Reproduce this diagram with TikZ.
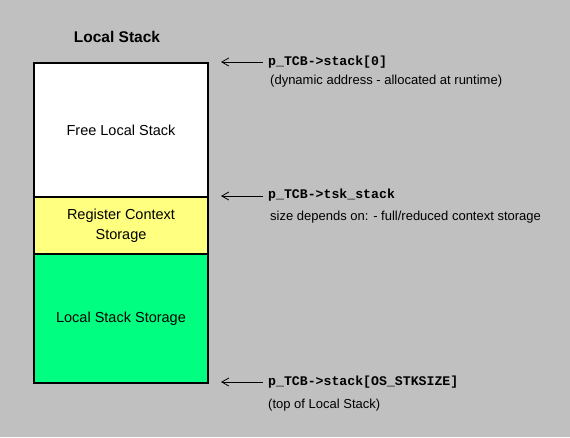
\documentclass[tikz,border=0pt]{standalone}
\usepackage{fontspec}
\setmainfont{Liberation Sans}
\newfontfamily\codefont{Liberation Mono}
\usetikzlibrary{arrows.meta}
\definecolor{bgcol}{HTML}{C0C0C0}
\definecolor{regcol}{HTML}{FFFF80}
\definecolor{loccol}{HTML}{00FF80}
\tikzset{
  part/.style={draw=black, line width=2pt, inner sep=0pt, anchor=north west,
    minimum width=174pt, align=center, font=\fontsize{14.5}{20}\selectfont},
  code/.style={anchor=west, inner sep=0pt, font=\codefont\bfseries\fontsize{13.2}{15}\selectfont},
  note/.style={anchor=west, inner sep=0pt, font=\fontsize{13}{15}\selectfont},
  ptr/.style={draw=black, line width=0.8pt, {Straight Barb[length=7pt,width=8pt]}-},
}
\begin{document}
\begin{tikzpicture}[x=1pt,y=-1pt]
\fill[bgcol] (0,0) rectangle (570,437);
\useasboundingbox (0,0) rectangle (570,437);
\node[font=\bfseries\fontsize{15.5}{18}\selectfont] (title) at (117,37) {Local Stack};
\node[part, fill=white, minimum height=134pt, text depth=-6pt] (free) at (33,62) {Free Local Stack};
\node[part, fill=regcol, minimum height=57pt] (reg) at (33,196) {Register Context\\Storage};
\node[part, fill=loccol, minimum height=129pt] (loc) at (33,253) {Local Stack Storage};
% annotations
\node[code] (c0) at (268,62) {p\_TCB->stack[0]};
\node[note] (n0) at (270,81) {(dynamic address - allocated at runtime)};
\node[code] (c1) at (268,195) {p\_TCB->tsk\_stack};
\node[note] (n1) at (270,217) {size depends on: - full/reduced context storage};
\node[code] (c2) at (268,382) {p\_TCB->stack[OS\_STKSIZE]};
\node[note] (n2) at (268,405) {(top of Local Stack)};
\coordinate (t0) at (221,62);
\coordinate (t1) at (221,196);
\coordinate (t2) at (221,382);
\draw[ptr] (t0) -- ([xshift=-5pt]c0.west);
\draw[ptr] (t1) -- ([xshift=-5pt]c1.west |- t1);
\draw[ptr] (t2) -- ([xshift=-5pt]c2.west |- t2);
\end{tikzpicture}
\end{document}
